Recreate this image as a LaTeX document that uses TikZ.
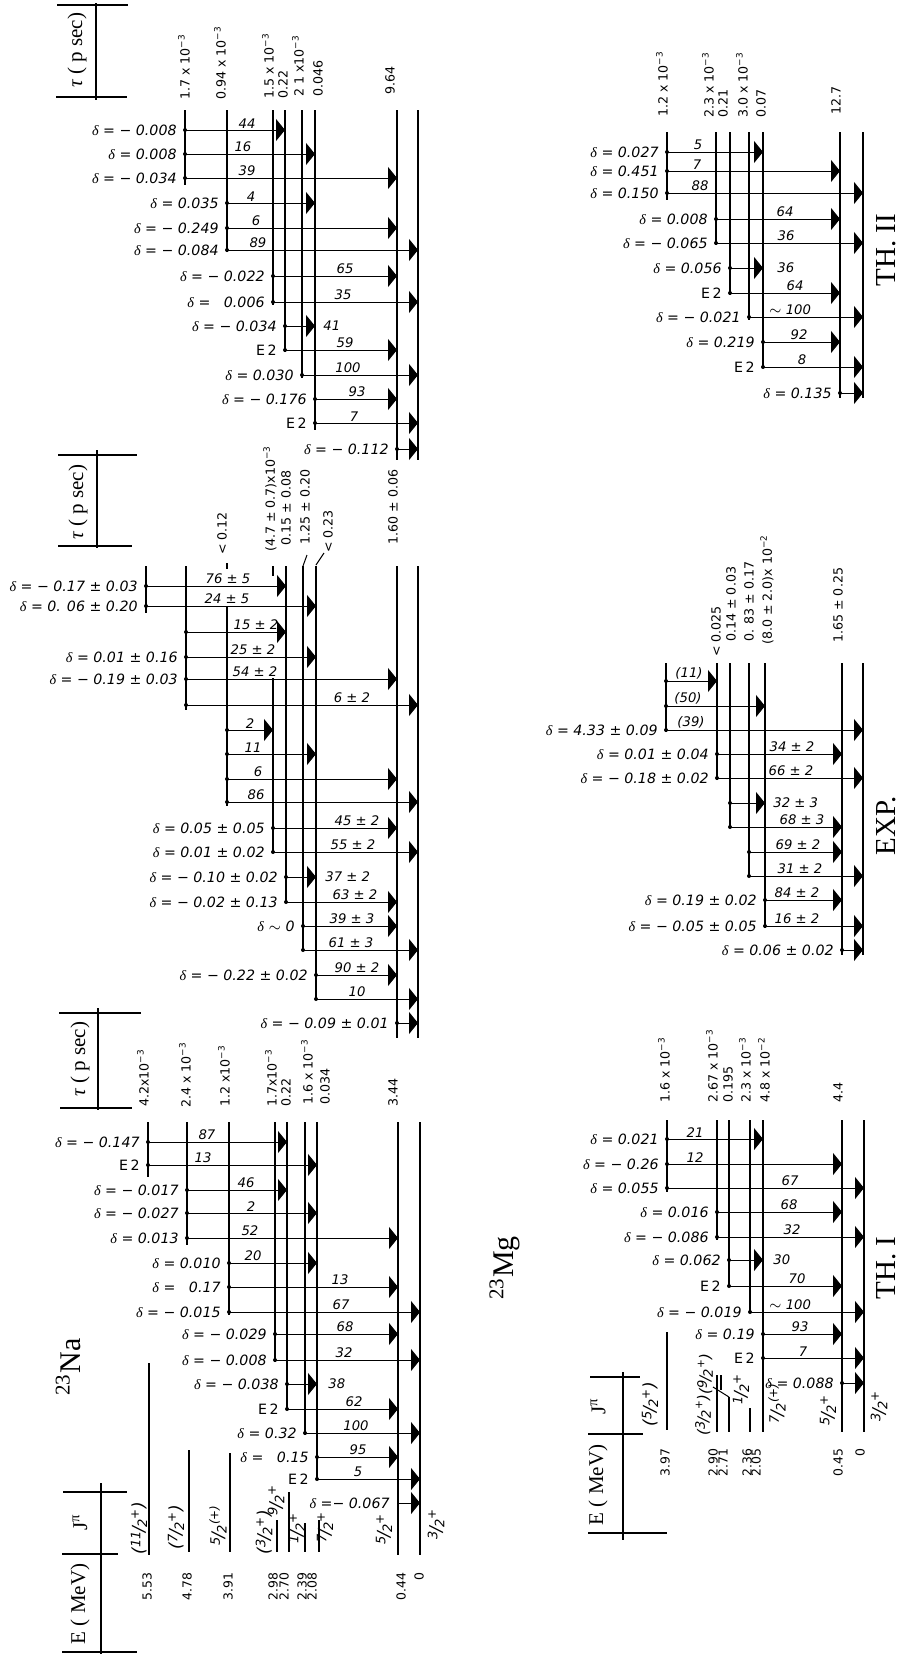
\documentclass[tikz,border=0pt]{standalone}
\usepackage{fontspec}
\setmainfont{DejaVu Sans}
\newfontfamily\hd{Liberation Serif}
\usetikzlibrary{arrows.meta}

\newcommand\dl{{\hd\itshape δ}}
\newcommand\ex[1]{\textsuperscript{#1}}
\newcommand\fr[2]{\raisebox{.45ex}{\fontsize{6.5}{6.5}\selectfont#1}\kern-.05em/\kern-.05em\raisebox{-.3ex}{\fontsize{6.5}{6.5}\selectfont#2}}
\newcommand\Etwo{{\upshape E\,2}}

\tikzset{
 lev/.style={line width=0.9pt},
 trn/.style={line width=0.5pt,-{Triangle[length=4.5pt,width=11pt]}},
 tau/.style={rotate=90,anchor=west,inner sep=0pt,font=\fontsize{6.3}{6.3}\selectfont},
 ene/.style={rotate=90,anchor=east,inner sep=0pt,font=\fontsize{6.2}{6.2}\selectfont},
 jp/.style={rotate=90,inner sep=0pt,font=\fontsize{8.5}{8.5}\selectfont\itshape},
 jps/.style={rotate=90,inner sep=0pt,font=\fontsize{7.5}{7.5}\selectfont\itshape},
 ilab/.style={anchor=south,inner sep=0pt,yshift=0.8pt,font=\fontsize{6.6}{6.6}\selectfont\itshape},
 blab/.style={anchor=west,inner sep=0pt,font=\fontsize{6.6}{6.6}\selectfont\itshape},
 dlab/.style={anchor=east,inner sep=0pt,font=\fontsize{7.1}{7.1}\selectfont\itshape},
 head/.style={rotate=90,inner sep=0pt,font=\hd\fontsize{10.5}{10.5}\selectfont},
 big/.style={rotate=90,inner sep=0pt,font=\hd\fontsize{15}{15}\selectfont},
 side/.style={rotate=90,anchor=south,inner sep=0pt,font=\hd\fontsize{14.5}{14.5}\selectfont},
 frame/.style={line width=0.6pt},
 lead/.style={line width=0.5pt},
}

% y, from, to, label x, label, delta
\newcommand\TR[6]{%
  \draw[trn] (#2,#1) -- (#3,#1);
  \fill (#2,#1) circle (1pt);
  \node[ilab] at (#4,#1) {#5};
  \node[dlab] at ([xshift=-4pt]#2,#1) {#6};}
% beside label
\newcommand\TRb[6]{%
  \draw[trn] (#2,#1) -- (#3,#1);
  \fill (#2,#1) circle (1pt);
  \node[blab] at (#4,#1) {#5};
  \node[dlab] at ([xshift=-4pt]#2,#1) {#6};}
% no label
\newcommand\TRn[4]{%
  \draw[trn] (#2,#1) -- (#3,#1);
  \fill (#2,#1) circle (1pt);
  \node[dlab] at ([xshift=-4pt]#2,#1) {#4};}
\newcommand\LV[3]{\draw[lev] (#1,#2) -- (#1,#3);}

\begin{document}
\begin{tikzpicture}[x=0.5pt,y=-0.5pt]
\fill[white] (0,0) rectangle (905,1654);
\path[use as bounding box] (0,0) rectangle (905,1654);

%================ 23Na  TH. II =================
\draw[frame] (57,5) -- (128,5);
\draw[frame] (56,97) -- (127,97);
\draw[frame] (96,3) -- (96,100);
\node[head] at (77,50) {{\itshape τ} ( p sec)};

\LV{185}{110}{185}
\LV{227}{110}{252}
\LV{273}{110}{305}
\LV{285}{110}{352}
\LV{302}{110}{378}
\LV{315}{110}{430}
\LV{397}{110}{460}
\LV{418}{110}{460}

\node[tau] at (184,100) {1.7 x 10\ex{−3}};
\node[tau] at (220,100) {0.94 x 10\ex{−3}};
\node[tau] at (268,99) {1.5 x 10\ex{−3}};
\node[tau] at (283,99) {0.22};
\node[tau] at (298,97) {2 1 x10\ex{−3}};
\node[tau] at (318,97) {0.046};
\node[tau] at (390,95) {9.64};

\TR{130}{185}{285}{247}{44}{\dl{} = − 0.008}
\TR{154}{185}{315}{243}{16}{\dl{} = 0.008}
\TR{178}{185}{397}{247}{39}{\dl{} = − 0.034}
\TR{203}{227}{315}{251}{4}{\dl{} = 0.035}
\TR{228}{227}{397}{256}{6}{\dl{} = − 0.249}
\TR{250}{227}{418}{258}{89}{\dl{} = − 0.084}
\TR{276}{273}{397}{345}{65}{\dl{} = − 0.022}
\TR{302}{273}{418}{343}{35}{\dl{} =\ \ \ 0.006}
\TRb{326}{285}{315}{323}{41}{\dl{} = − 0.034}
\TR{350}{285}{397}{345}{59}{\Etwo}
\TR{375}{302}{418}{348}{100}{\dl{} = 0.030}
\TR{399}{315}{397}{357}{93}{\dl{} = − 0.176}
\TR{423}{315}{418}{354}{7}{\Etwo}
\TRn{449}{397}{418}{\dl{} = − 0.112}

%================ 23Na  EXP =================
\draw[frame] (58,455) -- (137,455);
\draw[frame] (58,546) -- (132,546);
\draw[frame] (97,450) -- (97,548);
\node[head] at (78,502) {{\itshape τ} ( p sec)};

\LV{146}{566}{613}
\LV{186}{566}{710}
\LV{227}{606}{806}
\draw[lev] (227,563) -- (227,569);
\LV{273}{678}{853}
\draw[lev] (273,566) -- (273,576);
\LV{286}{566}{903}
\LV{303}{566}{951}
\LV{316}{566}{1000}
\LV{397}{566}{1038}
\LV{418}{566}{1038}
\draw[lead] (303,566) -- (307,555);
\draw[lead] (316,565) -- (324,553);

\node[tau] at (222,555) {< 0.12};
\node[tau] at (270,552) {(4.7 ± 0.7)x10\ex{−3}};
\node[tau] at (286,546) {0.15 ± 0.08};
\node[tau] at (305,545) {1.25 ± 0.20};
\node[tau] at (328,553) {< 0.23};
\node[tau] at (393,545) {1.60 ± 0.06};

\TR{586}{146}{286}{228}{76 ± 5}{\dl{} = − 0.17 ± 0.03}
\TR{606}{146}{316}{227}{24 ± 5}{\dl{} = 0. 06 ± 0.20}
\TR{632}{186}{286}{256}{15 ± 2}{}
\TR{657}{186}{316}{253}{25 ± 2}{\dl{} = 0.01 ± 0.16}
\TR{679}{186}{397}{255}{54 ± 2}{\dl{} = − 0.19 ± 0.03}
\TR{705}{186}{418}{352}{6 ± 2}{}
\TR{730}{227}{273}{250}{2}{}
\TR{754}{227}{316}{253}{11}{}
\TR{779}{227}{397}{258}{6}{}
\TR{802}{227}{418}{256}{86}{}
\TR{828}{273}{397}{357}{45 ± 2}{\dl{} = 0.05 ± 0.05}
\TR{852}{273}{418}{353}{55 ± 2}{\dl{} = 0.01 ± 0.02}
\TRb{877}{286}{316}{325}{37 ± 2}{\dl{} = − 0.10 ± 0.02}
\TR{902}{286}{397}{355}{63 ± 2}{\dl{} = − 0.02 ± 0.13}
\TR{926}{303}{397}{352}{39 ± 3}{\dl{} $\sim$ 0}
\TR{950}{303}{418}{351}{61 ± 3}{}
\TR{975}{316}{397}{357}{90 ± 2}{\dl{} = − 0.22 ± 0.02}
\TR{999}{316}{418}{357}{10}{}
\TRn{1023}{397}{418}{\dl{} = − 0.09 ± 0.01}

%================ 23Na  TH. I =================
\draw[frame] (59,1013) -- (141,1013);
\draw[frame] (60,1108) -- (132,1108);
\draw[frame] (98,1008) -- (98,1110);
\node[head] at (80,1059) {{\itshape τ} ( p sec)};

\LV{148}{1122}{1177}
\LV{187}{1122}{1245}
\LV{229}{1122}{1315}
\LV{275}{1122}{1362}
\LV{287}{1122}{1410}
\LV{305}{1122}{1435}
\LV{317}{1122}{1480}
\LV{398}{1122}{1555}
\LV{420}{1122}{1555}

\node[tau] at (143,1107) {4.2x10\ex{−3}};
\node[tau] at (185,1108) {2.4 x 10\ex{−3}};
\node[tau] at (224,1107) {1.2 x10\ex{−3}};
\node[tau] at (271,1107) {1.7x10\ex{−3}};
\node[tau] at (286,1107) {0.22};
\node[tau] at (307,1105) {1.6 x 10\ex{−3}};
\node[tau] at (325,1105) {0.034};
\node[tau] at (393,1107) {3.44};

\TR{1142}{148}{287}{207}{87}{\dl{} = − 0.147}
\TR{1165}{148}{317}{203}{13}{\Etwo}
\TR{1190}{187}{287}{246}{46}{\dl{} = − 0.017}
\TR{1213}{187}{317}{251}{2}{\dl{} = − 0.027}
\TR{1238}{187}{398}{250}{52}{\dl{} = 0.013}
\TR{1263}{229}{317}{253}{20}{\dl{} = 0.010}
\TR{1287}{229}{398}{340}{13}{\dl{} =\ \ \ 0.17}
\TR{1312}{229}{420}{341}{67}{\dl{} = − 0.015}
\TR{1334}{275}{398}{345}{68}{\dl{} = − 0.029}
\TR{1360}{275}{420}{344}{32}{\dl{} = − 0.008}
\TRb{1384}{287}{317}{328}{38}{\dl{} = − 0.038}
\TR{1409}{287}{398}{354}{62}{\Etwo}
\TR{1433}{305}{420}{356}{100}{\dl{} = 0.32}
\TR{1457}{317}{398}{358}{95}{\dl{} =\ \ \ 0.15}
\TR{1479}{317}{420}{358}{5}{\Etwo}
\draw[trn] (398,1503) -- (420,1503);
\node[dlab] at ([xshift=-4pt]398,1503) {\dl{} =− 0.067};

% level scheme 23Na
\LV{149}{1363}{1555}
\LV{189}{1450}{1552}
\LV{230}{1453}{1552}
\LV{277}{1520}{1552}
\LV{289}{1492}{1552}
\LV{305}{1523}{1552}
\LV{319}{1520}{1552}

\node[jp] at (139,1528) {(\fr{11}{2}\textsuperscript{+})};
\node[jp] at (176,1527) {(\fr72\textsuperscript{+})};
\node[jp] at (218,1525) {\fr52\textsuperscript{(+)}};
\node[jp] at (264,1532) {(\fr32\textsuperscript{+})};
\node[jp] at (276,1500) {\fr92\textsuperscript{+}};
\node[jp] at (297,1528) {\fr12\textsuperscript{+}};
\node[jp] at (325,1527) {\fr72\textsuperscript{+}};
\node[jp] at (384,1529) {\fr52\textsuperscript{+}};
\node[jp] at (436,1524) {\fr32\textsuperscript{+}};

\node[ene] at (147,1572) {5.53};
\node[ene] at (187,1572) {4.78};
\node[ene] at (228,1572) {3.91};
\node[ene] at (273,1572) {2.98};
\node[ene] at (284,1572) {2.70};
\node[ene] at (302,1572) {2.39};
\node[ene] at (312,1572) {2.08};
\node[ene] at (401,1572) {0.44};
\node[ene] at (419,1572) {0};

\draw[frame] (63,1492) -- (127,1492);
\draw[frame] (62,1554) -- (118,1554);
\draw[frame] (62,1652) -- (137,1652);
\draw[frame] (101,1483) -- (101,1654);
\node[head] at (80,1522) {J\textsuperscript{π}};
\node[head] at (80,1604) {E ( MeV)};

\node[big] at (68,1367) {\textsuperscript{23}Na};

%================ 23Mg  TH. II =================
\LV{667}{132}{200}
\LV{716}{132}{245}
\LV{730}{132}{295}
\LV{749}{132}{320}
\LV{763}{132}{368}
\LV{840}{132}{398}
\LV{863}{132}{398}

\node[tau] at (662,117) {1.2 x 10\ex{−3}};
\node[tau] at (708,118) {2.3 x 10\ex{−3}};
\node[tau] at (723,118) {0.21};
\node[tau] at (742,118) {3.0 x 10\ex{−3}};
\node[tau] at (761,118) {0.07};
\node[tau] at (836,115) {12.7};

\TR{152}{667}{763}{698}{5}{\dl{} = 0.027}
\TR{171}{667}{840}{697}{7}{\dl{} = 0.451}
\TR{193}{667}{863}{700}{88}{\dl{} = 0.150}
\TR{219}{716}{840}{785}{64}{\dl{} = 0.008}
\TR{243}{716}{863}{786}{36}{\dl{} = − 0.065}
\TRb{268}{730}{763}{777}{36}{\dl{} = 0.056}
\TR{293}{730}{840}{795}{64}{\Etwo}
\TR{317}{749}{863}{790}{$\sim$ 100}{\dl{} = − 0.021}
\TR{342}{763}{840}{799}{92}{\dl{} = 0.219}
\TR{367}{763}{863}{802}{8}{\Etwo}
\TRn{393}{840}{863}{\dl{} = 0.135}

\node[side] at (896,250) {TH. II};

%================ 23Mg  EXP =================
\LV{666}{663}{732}
\LV{717}{663}{780}
\LV{730}{663}{828}
\LV{749}{663}{877}
\LV{765}{663}{928}
\LV{842}{663}{955}
\LV{863}{663}{955}

\node[tau] at (716,657) {< 0.025};
\node[tau] at (731,642) {0.14 ± 0.03};
\node[tau] at (749,642) {0. 83 ± 0.17};
\node[tau] at (767,645) {(8.0 ± 2.0)x 10\ex{−2}};
\node[tau] at (838,643) {1.65 ± 0.25};

\TR{681}{666}{717}{689}{(11)}{}
\TR{706}{666}{765}{688}{(50)}{}
\TR{730}{666}{863}{691}{(39)}{\dl{} = 4.33 ± 0.09}
\TR{754}{717}{842}{792}{34 ± 2}{\dl{} = 0.01 ± 0.04}
\TR{778}{717}{863}{791}{66 ± 2}{\dl{} = − 0.18 ± 0.02}
\TRb{803}{730}{765}{773}{32 ± 3}{}
\TR{827}{730}{842}{802}{68 ± 3}{}
\TR{852}{749}{842}{798}{69 ± 2}{}
\TR{876}{749}{863}{800}{31 ± 2}{}
\TR{900}{765}{842}{797}{84 ± 2}{\dl{} = 0.19 ± 0.02}
\TR{926}{765}{863}{797}{16 ± 2}{\dl{} = − 0.05 ± 0.05}
\TRn{950}{842}{863}{\dl{} = 0.06 ± 0.02}

\node[side] at (896,826) {EXP.};

%================ 23Mg  TH. I =================
\LV{667}{1120}{1192}
\LV{717}{1120}{1240}
\LV{729}{1120}{1287}
\LV{750}{1120}{1313}
\LV{763}{1120}{1432}
\LV{842}{1120}{1432}
\LV{864}{1120}{1432}

\node[tau] at (664,1103) {1.6 x 10\ex{−3}};
\node[tau] at (712,1103) {2.67 x 10\ex{−3}};
\node[tau] at (728,1103) {0.195};
\node[tau] at (745,1103) {2.3 x 10\ex{−3}};
\node[tau] at (764,1103) {4.8 x 10\ex{−2}};
\node[tau] at (838,1103) {4.4};

\TR{1139}{667}{763}{695}{21}{\dl{} = 0.021}
\TR{1164}{667}{842}{695}{12}{\dl{} = − 0.26}
\TR{1188}{667}{864}{790}{67}{\dl{} = 0.055}
\TR{1212}{717}{842}{789}{68}{\dl{} = 0.016}
\TR{1237}{717}{864}{792}{32}{\dl{} = − 0.086}
\TRb{1260}{729}{763}{773}{30}{\dl{} = 0.062}
\TR{1286}{729}{842}{797}{70}{\Etwo}
\TR{1312}{750}{864}{790}{$\sim$ 100}{\dl{} = − 0.019}
\TR{1334}{763}{842}{800}{93}{\dl{} = 0.19}
\TR{1358}{763}{864}{803}{7}{\Etwo}
\TRn{1383}{842}{864}{\dl{} = 0.088}

\node[side] at (896,1268) {TH. I};

% level scheme 23Mg
\LV{667}{1332}{1430}
\LV{717}{1375}{1432}
\LV{721}{1375}{1390}
\draw[lead] (713,1387) -- (729,1397);
\LV{729}{1397}{1432}
\LV{750}{1408}{1432}

\node[jp] at (650,1404) {(\fr52\textsuperscript{+})};
\node[jps] at (703,1415) {(\fr32\textsuperscript{+})};
\node[jps] at (705,1374) {(\fr92\textsuperscript{+})};
\node[jp] at (741,1389) {\fr12\textsuperscript{+}};
\node[jp] at (777,1403) {\fr72\textsuperscript{(+)}};
\node[jp] at (828,1410) {\fr52\textsuperscript{+}};
\node[jp] at (879,1406) {\fr32\textsuperscript{+}};

\node[ene] at (665,1448) {3.97};
\node[ene] at (713,1448) {2.90};
\node[ene] at (723,1448) {2.71};
\node[ene] at (747,1448) {2.36};
\node[ene] at (756,1448) {2.05};
\node[ene] at (838,1448) {0.45};
\node[ene] at (860,1448) {0};

\draw[frame] (590,1377) -- (640,1377);
\draw[frame] (588,1434) -- (643,1434);
\draw[frame] (588,1533) -- (667,1533);
\draw[frame] (623,1372) -- (623,1540);
\node[head] at (598,1406) {J\textsuperscript{π}};
\node[head] at (598,1485) {E ( MeV)};

\node[big] at (505,1268) {\textsuperscript{23}Mg};
\end{tikzpicture}
\end{document}
